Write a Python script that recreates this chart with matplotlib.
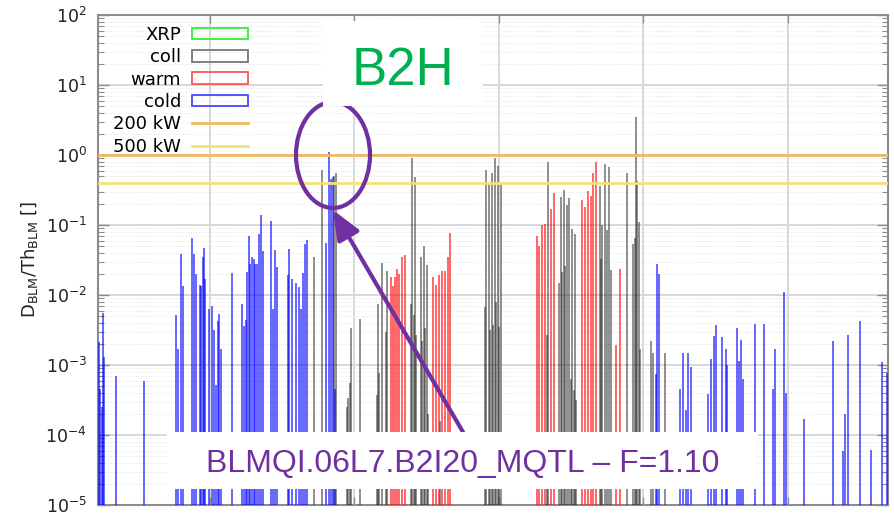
import matplotlib
matplotlib.use("Agg")
import matplotlib.pyplot as plt
from matplotlib.patches import Patch, Ellipse, Rectangle, FancyArrowPatch
from matplotlib.lines import Line2D
from matplotlib.ticker import LogLocator, NullFormatter, MultipleLocator

# Beam-loss monitor readings, D_BLM / Th_BLM, against longitudinal position s [m]
cold_s = [19623.0, 19624.2, 19625.2, 19626.3, 19627.0, 19634.7, 19654.3, 19676.3, 19677.9, 19680.2,
          19681.3, 19687.8, 19689.2, 19690.1, 19692.9, 19694.0, 19695.0, 19695.7, 19696.4, 19699.1,
          19701.6, 19702.6, 19704.5, 19705.6, 19706.6, 19707.9, 19715.1, 19722.2, 19723.6, 19725.0,
          19725.9, 19726.8, 19727.9, 19729.1, 19730.3, 19731.4, 19732.8, 19734.2, 19735.1, 19736.9,
          19742.5, 19743.9, 19744.8, 19746.2, 19754.0, 19754.7, 19756.8, 19759.4, 19761.7, 19763.3,
          19764.2, 19765.6, 19767.2, 19780.6, 19782.2, 19783.8, 19785.2, 19786.8,
          20008.7, 20009.8, 20010.8, 20025.5, 20027.4, 20029.7, 20031.0, 20033.3, 20045.1, 20046.8,
          20049.1, 20050.4, 20054.4, 20057.6, 20058.3, 20064.8, 20066.1, 20067.5, 20069.1, 20077.6,
          20083.7, 20090.1, 20091.3, 20097.3, 20098.7, 20111.4, 20131.2, 20138.2, 20139.8, 20141.6,
          20150.2, 20157.8, 20165.2, 20168.8]
cold_val = [2.1e-3, 4.5e-4, 2.5e-4, 5.5e-3, 1.3e-3, 6.9e-4, 6.0e-4, 5.2e-3, 1.7e-3, 0.039,
            0.0135, 0.065, 0.038, 0.020, 0.0138, 0.0134, 0.035, 0.047, 0.017, 0.0064,
            0.0069, 0.0032, 5.2e-4, 0.0042, 0.0053, 0.0017, 0.0204, 0.0074, 0.0036, 0.0044,
            0.0216, 0.069, 0.028, 0.035, 0.033, 0.028, 0.028, 0.074, 0.14, 0.043,
            0.115, 0.0063, 0.044, 0.025, 0.0195, 0.045, 0.017, 0.015, 0.013, 0.0064,
            0.0204, 0.053, 0.062, 0.056, 1.10, 0.46, 0.48, 4.6e-4,
            7.4e-4, 0.028, 0.020, 4.5e-4, 0.0015, 2.3e-4, 0.0015, 9.5e-4, 3.9e-4, 1.2e-3,
            2.6e-3, 3.7e-3, 2.5e-3, 1.7e-3, 1.0e-3, 3.4e-3, 1.15e-3, 2.3e-3, 6.3e-4, 3.9e-3,
            3.9e-3, 4.6e-4, 1.7e-3, 0.0112, 4.0e-4, 1.7e-4, 2.2e-3, 5.9e-5, 2.0e-4, 2.7e-3,
            4.2e-3, 6.1e-5, 1.1e-3, 7.8e-4]

coll_s = [19771.8, 19777.6, 19786.2, 19787.6, 19795.1, 19795.9, 19796.8, 19797.7, 19803.9, 19815.5,
          19816.2, 19817.3, 19819.1, 19821.7, 19822.8, 19839.2, 19840.1, 19841.3, 19842.0, 19842.9,
          19845.9, 19846.8, 19848.0, 19848.9, 19850.3, 19851.2, 19859.3, 19890.3, 19891.4, 19893.4,
          19894.1, 19895.3, 19896.0, 19897.4, 19898.1, 19899.5, 19900.2, 19901.5, 19933.2, 19934.3,
          19941.9, 19943.1, 19944.0, 19945.2, 19945.9, 19947.0, 19948.8, 19949.8, 19950.9, 19951.9,
          19952.8, 19953.7, 19970.1, 19971.0, 19971.7, 19973.6, 19975.2, 19976.3, 19977.5, 19989.0,
          19993.2, 19994.1, 19994.8, 19995.9, 19996.9, 19998.0, 20005.4, 20006.6, 20015.3]
coll_val = [0.035, 0.62, 0.50, 0.55, 2.5e-4, 3.4e-4, 5.5e-4, 0.0034, 0.0046, 3.7e-4,
            0.0074, 7.6e-4, 0.029, 0.003, 0.022, 0.0074, 0.90, 0.0052, 0.48, 0.0027,
            0.035, 0.0022, 0.050, 0.0034, 0.027, 2.0e-4, 1.6e-4, 0.0068, 0.62, 0.39,
            0.0032, 0.55, 0.0037, 0.90, 0.008, 0.70, 0.0035, 0.38, 0.0027, 0.80,
            0.015, 0.25, 0.021, 0.32, 0.026, 0.19, 0.24, 6.3e-4, 0.089, 4.4e-4,
            0.074, 3.2e-4, 0.36, 0.033, 0.10, 0.74, 0.085, 0.68, 0.023, 0.56,
            0.053, 0.066, 3.5, 0.43, 0.11, 0.0017, 0.0022, 0.0015, 0.0015]

warm_s = [19825.4, 19827.0, 19828.1, 19829.3, 19831.1, 19832.8, 19835.1, 19854.2, 19856.3, 19858.4,
          19860.7, 19862.8, 19864.6, 19866.4, 19926.3, 19928.1, 19930.1, 19932.0, 19936.4, 19938.2,
          19957.8, 19959.7, 19961.6, 19963.7, 19965.5, 19967.3, 19981.4, 19984.2]
warm_val = [0.018, 0.0135, 0.018, 0.0235, 0.020, 0.035, 0.037, 0.018, 0.0139, 0.019,
            0.022, 0.022, 0.035, 0.076, 0.070, 0.050, 0.10, 0.103, 0.17, 0.29,
            0.23, 0.18, 0.31, 0.26, 0.56, 0.80, 0.0019, 0.0235]

xrp_s = []
xrp_val = []

limit_200kw = 1.0
limit_500kw = 0.4

legend_labels = ["XRP", "coll", "warm", "cold", "200 kW", "500 kW"]
highlight_label = "B2H"
highlight_text = "BLMQI.06L7.B2I20_MQTL \u2013 F=1.10"

W, H = 894, 513
fig = plt.figure(figsize=(W / 100, H / 100), dpi=100)
ax = fig.add_axes([98 / W, 8 / H, 790 / W, 490 / H])

ymin = 1e-5
ax.set_yscale("log")
ax.set_ylim(ymin, 1e2)
ax.set_xlim(19622.5, 20169.5)

c_xrp, c_coll, c_warm, c_cold = "#00dd00", "#222222", "#ff0000", "#0000ff"
c_200, c_500 = "#edbb5f", "#f2e27a"

ax.vlines(xrp_s, ymin, xrp_val, colors=c_xrp, lw=1.4, alpha=0.6, zorder=3)
ax.vlines(coll_s, ymin, coll_val, colors=c_coll, lw=1.4, alpha=0.5, zorder=3)
ax.vlines(warm_s, ymin, warm_val, colors=c_warm, lw=1.4, alpha=0.6, zorder=3)
ax.vlines(cold_s, ymin, cold_val, colors=c_cold, lw=1.4, alpha=0.6, zorder=3)

ax.axhline(limit_200kw, color=c_200, lw=2.0, zorder=4)
ax.axhline(limit_500kw, color=c_500, lw=2.0, zorder=4)

# axes cosmetics
ax.yaxis.set_major_locator(LogLocator(base=10, numticks=20))
ax.yaxis.set_minor_locator(LogLocator(base=10, subs=range(2, 10), numticks=20))
ax.yaxis.set_minor_formatter(NullFormatter())
ax.xaxis.set_major_locator(MultipleLocator(100))
ax.set_axisbelow(True)
ax.grid(True, which="major", axis="both", color="#d6d6d6", lw=1.3)
ax.grid(True, which="minor", axis="y", color="#dadada", lw=0.6, ls=(0, (1, 2)))
for sp in ax.spines.values():
    sp.set_color("#8c8c8c")
    sp.set_linewidth(1.5)
ax.tick_params(axis="y", which="both", direction="in", left=True, right=True,
               colors="#8c8c8c", labelcolor="#222222", labelsize=12.5, pad=8)
ax.tick_params(axis="y", which="major", length=8, width=1.0)
ax.tick_params(axis="y", which="minor", length=4.5, width=0.8)
ax.tick_params(axis="x", which="major", direction="in", top=True, bottom=True,
               labelbottom=False, length=6, width=1.0, colors="#8c8c8c")

ax.set_ylabel(r"D$_\mathregular{BLM}$/Th$_\mathregular{BLM}$ []", fontsize=13, color="#222222")
ax.yaxis.set_label_coords(-0.074, 0.5)

handles = [
    Patch(facecolor="none", edgecolor="#33ee33", lw=1.3),
    Patch(facecolor="none", edgecolor="#777777", lw=1.3),
    Patch(facecolor="none", edgecolor="#ff5555", lw=1.3),
    Patch(facecolor="none", edgecolor="#4444ff", lw=1.3),
    Line2D([], [], color=c_200, lw=2.0),
    Line2D([], [], color=c_500, lw=2.0),
]
ax.legend(handles, legend_labels, loc="upper right",
          bbox_to_anchor=(248 / W, 1 - 26 / H), bbox_transform=fig.transFigure,
          markerfirst=False, frameon=False, fontsize=13, handlelength=3.1,
          handleheight=0.62, handletextpad=0.6, labelspacing=0.24,
          borderpad=0, borderaxespad=0)

# overlay annotations
purple = "#7030a0"
fig.add_artist(Ellipse((333 / W, 1 - 155 / H), 74 / W, 106 / H, transform=fig.transFigure,
                       facecolor="none", edgecolor=purple, lw=3.0, zorder=4))
fig.add_artist(Rectangle((323 / W, 1 - 106 / H), 160 / W, 85 / H, transform=fig.transFigure,
                         facecolor="white", edgecolor="none", zorder=5))
fig.text(403 / W, 1 - 85 / H, highlight_label, ha="center", va="baseline", fontsize=38,
         color="#00b050", family="Liberation Sans", zorder=6)

fig.add_artist(FancyArrowPatch((463 / W, 1 - 432 / H), (333 / W, 1 - 210 / H),
                               transform=fig.transFigure,
                               arrowstyle="-|>,head_length=1.2,head_width=0.5",
                               mutation_scale=15, color=purple, lw=3.0,
                               shrinkA=0, shrinkB=0, zorder=4))

fig.add_artist(Rectangle((167 / W, 1 - 489 / H), 591 / W, 57 / H, transform=fig.transFigure,
                         facecolor="white", edgecolor="none", zorder=5))
fig.text(462.5 / W, 1 - 471.5 / H, highlight_text, ha="center", va="baseline", fontsize=23,
         color=purple, family="Liberation Sans", zorder=6)

fig.savefig("out.png", dpi=100)
